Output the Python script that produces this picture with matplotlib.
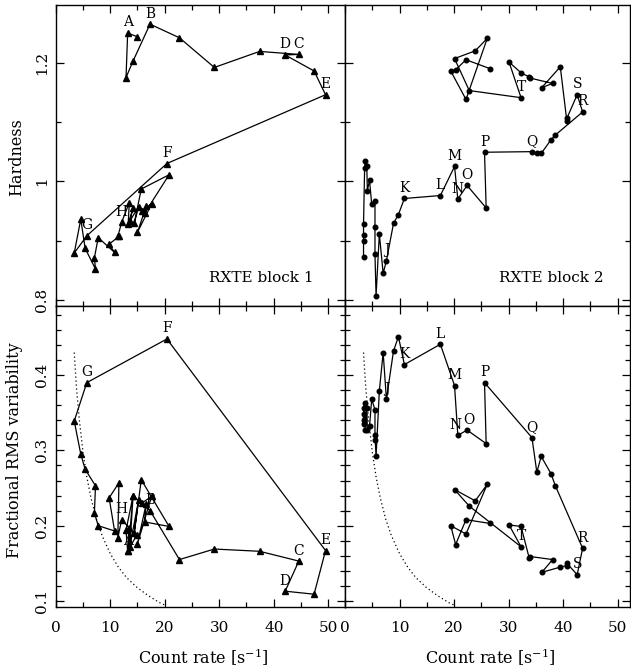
import matplotlib
matplotlib.use("Agg")
import matplotlib.pyplot as plt
from matplotlib.ticker import MultipleLocator, FuncFormatter

plt.rcParams['font.family'] = ['DejaVu Serif']
plt.rcParams['mathtext.fontset'] = 'dejavuserif'

# ---------------- data ----------------
# RXTE block 1 (time ordered)
rate1 = [14.9, 13.2, 12.9, 14.2, 17.3, 22.7, 29.1, 37.4, 44.6, 42.1, 47.4, 49.5,
         20.4, 5.7, 3.4, 4.6, 5.4, 7.3, 7.1, 7.8, 10.8, 9.8, 11.6, 11.4, 12.1,
         13.5, 13.3, 14.2, 13.6, 15.2, 14.4, 15.7, 20.8, 16.3, 16.6, 15.0, 17.6, 15.8]
hard1 = [1.244, 1.250, 1.175, 1.203, 1.265, 1.242, 1.192, 1.219, 1.214, 1.213, 1.186, 1.146,
         1.030, 0.908, 0.879, 0.936, 0.887, 0.852, 0.871, 0.905, 0.880, 0.894, 0.907, 0.907, 0.931,
         0.964, 0.928, 0.955, 0.933, 0.957, 0.929, 0.987, 1.011, 0.946, 0.958, 0.914, 0.962, 0.950]
rms1 = [0.188, 0.166, 0.194, 0.240, 0.220, 0.155, 0.169, 0.166, 0.153, 0.113, 0.109, 0.167,
        0.448, 0.390, 0.339, 0.295, 0.275, 0.253, 0.217, 0.200, 0.193, 0.237, 0.257, 0.184, 0.208,
        0.197, 0.167, 0.240, 0.172, 0.234, 0.190, 0.261, 0.199, 0.205, 0.229, 0.176, 0.239, 0.230]
labels1 = {'A': 1, 'B': 4, 'C': 8, 'D': 9, 'E': 11, 'F': 12, 'G': 13, 'H': 24}

# RXTE block 2 (time ordered)
rate2 = [3.4, 3.4, 3.4, 3.4, 3.6, 3.7, 4.0, 4.1, 4.5, 4.9, 5.5, 5.5, 5.5, 5.7, 6.3, 7.0,
         7.6, 8.9, 9.8, 10.9, 17.5, 20.1, 20.7, 22.4, 25.9, 25.6, 34.3, 35.2, 36.0, 37.8,
         38.6, 43.6, 42.6, 40.7, 40.7, 39.5, 36.1, 38.1, 34.0, 33.8, 32.3, 30.1, 32.3,
         22.8, 20.1, 23.9, 26.1, 22.2, 19.4, 20.3, 22.2, 26.6]
hard2 = [0.873, 0.899, 0.909, 0.928, 1.023, 1.034, 1.025, 0.984, 1.002, 0.961, 0.966, 0.923,
         0.877, 0.807, 0.911, 0.845, 0.866, 0.929, 0.944, 0.971, 0.976, 1.025, 0.970, 0.993,
         0.955, 1.049, 1.050, 1.047, 1.047, 1.070, 1.078, 1.117, 1.146, 1.106, 1.102, 1.193,
         1.158, 1.165, 1.174, 1.176, 1.183, 1.201, 1.141, 1.153, 1.207, 1.220, 1.241, 1.138,
         1.186, 1.188, 1.205, 1.190]
rms2 = [0.341, 0.349, 0.335, 0.356, 0.363, 0.327, 0.356, 0.327, 0.332, 0.368, 0.354, 0.314,
        0.321, 0.292, 0.379, 0.430, 0.368, 0.432, 0.451, 0.414, 0.441, 0.386, 0.320, 0.327,
        0.309, 0.390, 0.317, 0.271, 0.292, 0.269, 0.253, 0.170, 0.135, 0.150, 0.147, 0.145,
        0.138, 0.155, 0.159, 0.157, 0.199, 0.201, 0.172, 0.226, 0.248, 0.233, 0.255, 0.189,
        0.200, 0.175, 0.208, 0.203]
labels2 = {'J': 16, 'K': 19, 'L': 20, 'M': 21, 'N': 22, 'O': 23, 'P': 25, 'Q': 26,
           'R': 31, 'S': 32, 'T': 42}

# Poisson-noise limit on the fractional rms
noise_rate = [3.4, 3.8, 4.3, 5.0, 5.7, 6.5, 7.5, 8.5, 10.0, 11.5, 13.0, 15.0, 17.0, 19.0, 20.2]
noise_rms = [0.430, 0.384, 0.343, 0.298, 0.265, 0.236, 0.208, 0.187, 0.163, 0.145, 0.131,
             0.1175, 0.107, 0.098, 0.094]

# ---------------- layout ----------------
W, H = 631, 668
fig = plt.figure(figsize=(W / 100, H / 100), dpi=100)


def panel(x0, x1, y0, y1):
    return fig.add_axes([x0 / W, 1 - y1 / H, (x1 - x0) / W, (y1 - y0) / H])


ax_tl = panel(55.7, 345, 4.7, 306)
ax_tr = panel(345, 629.5, 4.7, 306)
ax_bl = panel(55.7, 345, 306, 606.7)
ax_br = panel(345, 629.5, 306, 606.7)

LW = 0.9
TFS = 11
lab_fs = 10


def draw(ax, x, y, marker, ms, labels, shifts=None):
    shifts = shifts or {}
    ax.plot(x, y, color='black', lw=LW, marker=marker, ms=ms, mfc='black', mec='black')
    for k, i in labels.items():
        ax.annotate(k, (x[i], y[i]), xytext=shifts.get(k, (0, 7.6)),
                    textcoords='offset points', ha='center', va='center', fontsize=lab_fs)


draw(ax_tl, rate1, hard1, '^', 5.0, labels1)
draw(ax_bl, rate1, rms1, '^', 5.0, labels1)
draw(ax_tr, rate2, hard2, 'o', 3.3, labels2)
draw(ax_br, rate2, rms2, 'o', 3.3, labels2, shifts={'N': (-2.0, 7.6), 'O': (1.0, 7.6)})
for ax in (ax_bl, ax_br):
    ax.plot(noise_rate, noise_rms, color='black', lw=0.9, ls=(0, (1, 2.2)))

fmt = FuncFormatter(lambda v, p: '%g' % round(v, 3))
for ax, xmax in ((ax_tl, 53.07), (ax_tr, 52.2), (ax_bl, 53.07), (ax_br, 52.2)):
    ax.set_xlim(0, xmax)
    ax.xaxis.set_major_locator(MultipleLocator(10))
    ax.xaxis.set_minor_locator(MultipleLocator(5))
    ax.tick_params(which='both', direction='in', top=True, right=True, width=0.9,
                   labelsize=TFS)
    ax.tick_params(which='major', length=6)
    ax.tick_params(which='minor', length=3.5)
    ax.tick_params(axis='x', pad=10)
    ax.tick_params(axis='y', pad=5)
    for s in ax.spines.values():
        s.set_linewidth(1.0)

for ax in (ax_tl, ax_tr):
    ax.set_ylim(0.7897, 1.2978)
    ax.yaxis.set_major_locator(MultipleLocator(0.2))
    ax.yaxis.set_minor_locator(MultipleLocator(0.1))
    ax.tick_params(labelbottom=False)
for ax in (ax_bl, ax_br):
    ax.set_ylim(0.0924, 0.4918)
    ax.yaxis.set_major_locator(MultipleLocator(0.1))
    ax.yaxis.set_minor_locator(MultipleLocator(0.02))
    ax.xaxis.set_major_formatter(fmt)
for ax in (ax_tr, ax_br):
    ax.tick_params(labelleft=False)
for ax in (ax_tl, ax_bl):
    ax.yaxis.set_major_formatter(fmt)
    for lbl in ax.get_yticklabels():
        lbl.set_rotation(90)
        lbl.set_va('center')

ax_tl.text(0.71, 0.093, 'RXTE block 1', transform=ax_tl.transAxes, ha='center',
           va='center', fontsize=11)
ax_tr.text(0.724, 0.093, 'RXTE block 2', transform=ax_tr.transAxes, ha='center',
           va='center', fontsize=11)

fig.text(17 / W, 1 - 157 / H, 'Hardness', rotation=90, ha='center', va='center',
         fontsize=11.5)
fig.text(15 / W, 1 - 450 / H, 'Fractional RMS variability', rotation=90, ha='center',
         va='center', fontsize=11.5)
for xc in (203, 490):
    fig.text(xc / W, 1 - 657 / H, r'Count rate [s$^{-1}$]', ha='center', va='center',
             fontsize=11.5)

fig.savefig('out.png', dpi=100)
